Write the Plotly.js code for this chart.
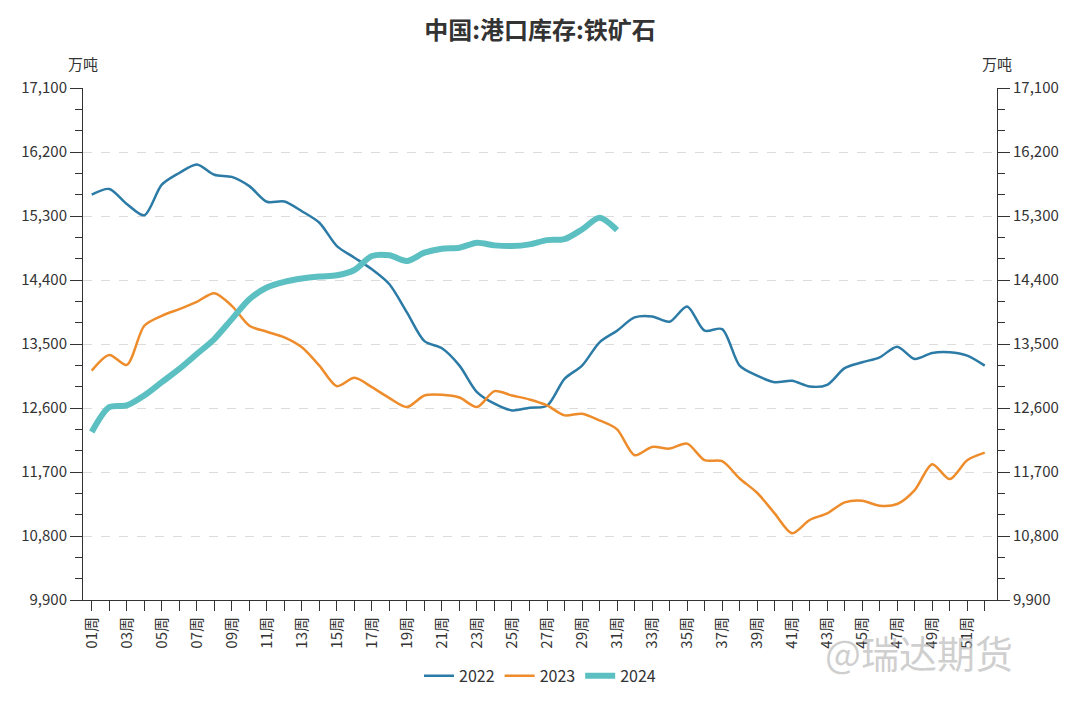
<!DOCTYPE html>
<html>
<head>
<meta charset="utf-8">
<script src="https://cdn.plot.ly/plotly-3.0.1.min.js"></script>
<style>html,body{margin:0;padding:0;background:#fff;}#chart{width:1080px;height:705px;}</style>
</head>
<body>
<div id="chart"></div>
<script>
var weeks = ["01周","02周","03周","04周","05周","06周","07周","08周","09周","10周","11周","12周","13周","14周","15周","16周","17周","18周","19周","20周","21周","22周","23周","24周","25周","26周","27周","28周","29周","30周","31周","32周","33周","34周","35周","36周","37周","38周","39周","40周","41周","42周","43周","44周","45周","46周","47周","48周","49周","50周","51周","52周"];

var s2022 = [15600,15680,15470,15310,15740,15905,16025,15880,15850,15720,15500,15503,15367,15205,14877,14714,14550,14340,13944,13540,13440,13196,12823,12660,12566,12604,12631,13010,13196,13524,13687,13874,13888,13813,14028,13687,13710,13196,13056,12963,12982,12902,12926,13160,13243,13313,13463,13290,13374,13384,13337,13196];

var s2023 = [13126,13346,13206,13757,13897,13990,14093,14214,14037,13757,13673,13594,13454,13196,12907,13024,12893,12739,12613,12776,12786,12748,12613,12837,12776,12720,12636,12496,12520,12426,12300,11936,12053,12029,12099,11866,11852,11609,11408,11118,10838,11025,11118,11273,11296,11226,11250,11446,11810,11600,11866,11973];

var s2024 = [12263,12613,12636,12776,12963,13150,13360,13570,13850,14130,14294,14373,14420,14448,14466,14541,14737,14747,14667,14784,14840,14854,14924,14887,14877,14901,14961,14975,15111,15275,15101];

var tickLabels = weeks.map(function(w, i){ return i % 2 === 0 ? w : ""; });

var font = "Noto Sans CJK SC, Noto Sans, sans-serif";

var traces = [
  {name:"2022", x: weeks, y: s2022, type:"scatter", mode:"lines",
   line:{color:"#2b7ba6", width:2.5, shape:"spline", smoothing:0.8}},
  {name:"2023", x: weeks, y: s2023, type:"scatter", mode:"lines",
   line:{color:"#ee8c2b", width:2.5, shape:"spline", smoothing:0.8}},
  {name:"2024", x: weeks.slice(0, s2024.length), y: s2024, type:"scatter", mode:"lines",
   line:{color:"#5cbfc1", width:6, shape:"spline", smoothing:0.8}},
  {name:"axis2", x: weeks, y: s2022, yaxis:"y2", type:"scatter", mode:"lines",
   opacity:0, showlegend:false, hoverinfo:"skip", line:{width:0}}
];

var yCommon = {
  range:[9900,17100], tick0:9900, dtick:900, tickmode:"linear",
  tickformat:",d", showline:true, linecolor:"#333", linewidth:1,
  ticks:"outside", ticklen:12, tickcolor:"#333", tickwidth:1,
  tickfont:{family:font, size:15, color:"#333"},
  minor:{tick0:9900, dtick:300, ticks:"outside", ticklen:7, tickcolor:"#333", showgrid:false},
  zeroline:false, fixedrange:true
};

var layout = {
  width:1080, height:705,
  margin:{l:83, r:83, t:88, b:103},
  paper_bgcolor:"#fff", plot_bgcolor:"#fff",
  font:{family:font, color:"#333"},
  title:{text:"中国:港口库存:铁矿石", x:0.5, xanchor:"center", y:0.957, yanchor:"middle",
         font:{family:font, size:24, color:"#333", weight:"bold"}},
  showlegend:true,
  legend:{orientation:"h", x:0.5, xanchor:"center", y:-0.148, yanchor:"middle",
          font:{family:font, size:16, color:"#333"}, itemwidth:30},
  xaxis:{type:"category", range:[-0.5, 51.7], tickmode:"array", tickvals:weeks, ticktext:tickLabels,
         tickangle:-90, ticks:"outside", ticklen:10, tickcolor:"#333", showline:true, linecolor:"#333",
         linewidth:1, showgrid:false, tickfont:{family:font, size:15, color:"#333"}, fixedrange:true},
  yaxis: Object.assign({}, yCommon, {side:"left", showgrid:true, gridcolor:"#dcdcdc", griddash:"dash", gridwidth:1}),
  yaxis2: Object.assign({}, yCommon, {side:"right", overlaying:"y", showgrid:false}),
  annotations:[
    {text:"万吨", xref:"paper", yref:"paper", x:0, y:1, xshift:0, yshift:25, showarrow:false,
     xanchor:"center", yanchor:"middle", font:{family:font, size:15, color:"#333"}},
    {text:"万吨", xref:"paper", yref:"paper", x:1, y:1, yshift:25, showarrow:false,
     xanchor:"center", yanchor:"middle", font:{family:font, size:15, color:"#333"}},
    {text:"@瑞达期货", xref:"paper", yref:"paper", x:1.02, y:-0.1, xanchor:"right", yanchor:"middle",
     showarrow:false, font:{family:font, size:38, color:"rgba(175,175,175,0.6)"}}
  ]
};

Plotly.newPlot("chart", traces, layout, {displayModeBar:false, staticPlot:true});
</script>
</body>
</html>
